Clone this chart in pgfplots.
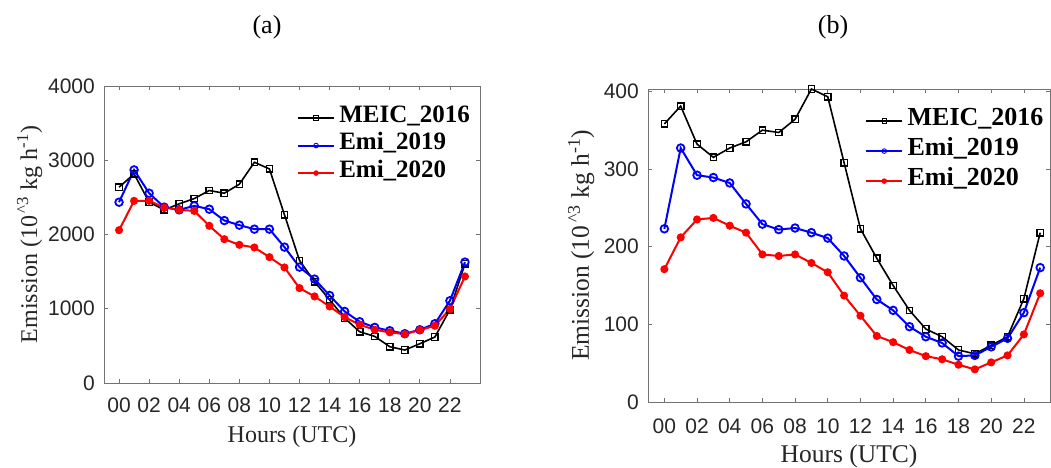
\documentclass[border=0pt]{standalone}
\usepackage{fontspec}
\setmainfont{Liberation Serif}
\newfontfamily\arial{Liberation Sans}
\usepackage{pgfplots}
\pgfplotsset{compat=1.18}
\pgfplotsset{
  legend image code/.code={\draw[mark repeat=2,mark phase=2,#1,mark size=2.3pt,every mark/.append style={line width=0.9pt}] plot coordinates {(0pt,0pt)(18pt,0pt)(36pt,0pt)};},
  myaxis/.style={
    scale only axis, anchor=south west, clip=false,
    xmin=-1,
    xtick={0,2,...,22},
    xticklabels={00,02,04,06,08,10,12,14,16,18,20,22},
    tick align=inside,
    major tick length=4pt,
    axis line style={black!55, line width=0.7pt},
    every tick/.style={black!55, line width=0.7pt},
    ymin=0,
    /pgf/number format/assume math mode=true,
    /pgf/number format/1000 sep={},
    tick label style={font=\arial\fontsize{21}{24}\selectfont, text=black!85, inner sep=0pt},
    x tick label style={anchor=base, yshift=-30pt},
    y tick label style={anchor=east, xshift=-9pt},
    legend style={draw=none, fill=none, inner sep=0pt, anchor=north west,
      cells={anchor=west}},
  },
  meic/.style={black, line width=1.6pt, mark=square, mark size=3.2pt, mark options={line width=1.3pt}},
  e19/.style={blue, line width=2pt, mark=o, mark size=3.8pt, mark options={line width=1.8pt}},
  e20/.style={red, line width=2pt, mark=*, mark size=3pt},
}
\begin{document}
\begin{tikzpicture}
\useasboundingbox (0,0) rectangle (1051pt,468pt);
\node[anchor=base, font=\fontsize{26}{30}\selectfont] at (267pt,434.5pt) {(a)};
\node[anchor=base, font=\fontsize{26}{30}\selectfont] at (833pt,434.5pt) {(b)};
\begin{axis}[myaxis,
  at={(104pt,85pt)}, width=376pt, height=297pt,
  xmax=24, ymax=4000, ytick={0,1000,2000,3000,4000},
  xlabel={Hours (UTC)},
  xlabel style={at={(axis description cs:0.5,-0.202)}, anchor=base, font=\fontsize{24}{28}\selectfont, text=black!85},
  ylabel={Emission (10\textsuperscript{\,\textasciicircum 3} kg h\textsuperscript{-1})},
  ylabel style={at={(axis description cs:-0.178,0.5)}, anchor=base, font=\fontsize{24}{28}\selectfont, text=black!85},
  legend style={at={(axis description cs:0.513,0.939)},
    nodes={inner sep=0pt, text height=18pt, text depth=9.5pt, font=\bfseries\fontsize{25}{29}\selectfont}},
]
\addplot[meic] coordinates {(0,2637)(1,2816)(2,2435)(3,2332)(4,2413)(5,2484)(6,2592)(7,2556)(8,2677)(9,2973)(10,2883)(11,2265)(12,1650)(13,1363)(14,1121)(15,874)(16,690)(17,628)(18,489)(19,444)(20,529)(21,619)(22,987)(23,1605)};
\addlegendentry{\,MEIC\_2016}
\addplot[e19] coordinates {(0,2435)(1,2870)(2,2556)(3,2368)(4,2332)(5,2386)(6,2341)(7,2188)(8,2126)(9,2072)(10,2072)(11,1830)(12,1561)(13,1399)(14,1179)(15,964)(16,825)(17,749)(18,704)(19,664)(20,717)(21,798)(22,1108)(23,1628)};
\addlegendentry{\,Emi\_2019}
\addplot[e20] coordinates {(0,2058)(1,2453)(2,2453)(3,2363)(4,2332)(5,2318)(6,2117)(7,1937)(8,1861)(9,1825)(10,1695)(11,1556)(12,1278)(13,1166)(14,1031)(15,888)(16,785)(17,717)(18,682)(19,659)(20,713)(21,771)(22,996)(23,1435)};
\addlegendentry{\,Emi\_2020}
\end{axis}
\begin{axis}[myaxis,
  at={(648pt,66pt)}, width=402pt, height=313pt,
  xmax=23.6, ymax=403, ytick={0,100,200,300,400},
  xlabel={Hours (UTC)},
  xlabel style={at={(axis description cs:0.5,-0.193)}, anchor=base, font=\fontsize{25.5}{30}\selectfont, text=black!85},
  ylabel={Emission (10\textsuperscript{\,\textasciicircum 3} kg h\textsuperscript{-1})},
  ylabel style={at={(axis description cs:-0.147,0.5)}, anchor=base, font=\fontsize{25.5}{30}\selectfont, text=black!85},
  x tick label style={yshift=-1pt},
  legend style={at={(axis description cs:0.540,0.946)},
    nodes={inner sep=0pt, text height=19pt, text depth=11pt, font=\bfseries\fontsize{26}{30}\selectfont}},
]
\addplot[meic] coordinates {(0,358)(1,381)(2,332)(3,315)(4,327)(5,335)(6,350)(7,347)(8,364)(9,403)(10,393)(11,308)(12,223)(13,185)(14,150)(15,118)(16,94)(17,84)(18,67)(19,62)(20,73)(21,84)(22,133)(23,218)};
\addlegendentry{\,MEIC\_2016}
\addplot[e19] coordinates {(0,223)(1,327)(2,292)(3,289)(4,282)(5,255)(6,229)(7,222)(8,224)(9,218)(10,211)(11,188)(12,160)(13,132)(14,118)(15,97)(16,84)(17,76)(18,59)(19,60)(20,71)(21,82)(22,115)(23,173)};
\addlegendentry{\,Emi\_2019}
\addplot[e20] coordinates {(0,171)(1,212)(2,235)(3,237)(4,227)(5,218)(6,190)(7,188)(8,190)(9,179)(10,167)(11,137)(12,111)(13,85)(14,77)(15,67)(16,59)(17,55)(18,48)(19,42)(20,51)(21,60)(22,87)(23,140)};
\addlegendentry{\,Emi\_2020}
\end{axis}
\end{tikzpicture}
\end{document}
